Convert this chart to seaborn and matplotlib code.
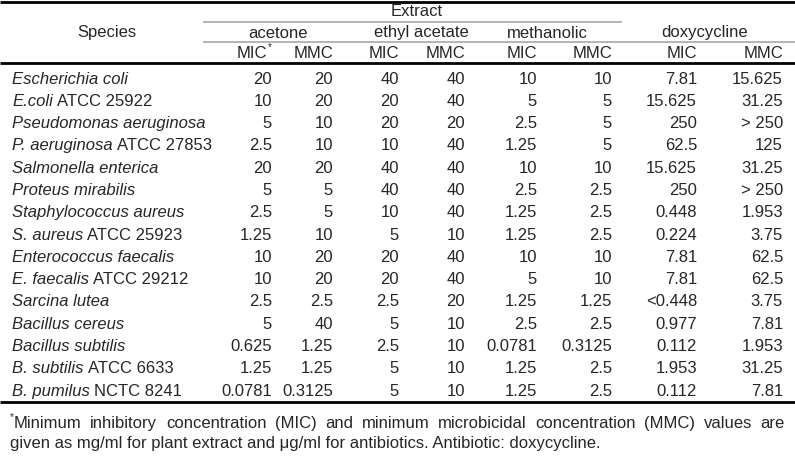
import matplotlib
matplotlib.use("Agg")
import matplotlib.pyplot as plt
import seaborn as sns

# species name: italic part + strain part
species = ["Escherichia coli", "E.coli", "Pseudomonas aeruginosa", "P. aeruginosa",
           "Salmonella enterica", "Proteus mirabilis", "Staphylococcus aureus",
           "S. aureus", "Enterococcus faecalis", "E. faecalis", "Sarcina lutea",
           "Bacillus cereus", "Bacillus subtilis", "B. subtilis", "B. pumilus"]
strain = ["", "ATCC 25922", "", "ATCC 27853", "", "", "", "ATCC 25923", "",
          "ATCC 29212", "", "", "", "ATCC 6633", "NCTC 8241"]

acetone_mic = ["20", "10", "5", "2.5", "20", "5", "2.5", "1.25", "10", "10", "2.5", "5", "0.625", "1.25", "0.0781"]
acetone_mmc = ["20", "20", "10", "10", "20", "5", "5", "10", "20", "20", "2.5", "40", "1.25", "1.25", "0.3125"]
ethyl_mic = ["40", "20", "20", "10", "40", "40", "10", "5", "20", "20", "2.5", "5", "2.5", "5", "5"]
ethyl_mmc = ["40", "40", "20", "40", "40", "40", "40", "10", "40", "40", "20", "10", "10", "10", "10"]
methanol_mic = ["10", "5", "2.5", "1.25", "10", "2.5", "1.25", "1.25", "10", "5", "1.25", "2.5", "0.0781", "1.25", "1.25"]
methanol_mmc = ["10", "5", "5", "5", "10", "2.5", "2.5", "2.5", "10", "10", "1.25", "2.5", "0.3125", "2.5", "2.5"]
doxy_mic = ["7.81", "15.625", "250", "62.5", "15.625", "250", "0.448", "0.224", "7.81", "7.81", "<0.448", "0.977", "0.112", "1.953", "0.112"]
doxy_mmc = ["15.625", "31.25", "> 250", "125", "31.25", "> 250", "1.953", "3.75", "62.5", "62.5", "3.75", "7.81", "1.953", "31.25", "7.81"]

groups = ["acetone", "ethyl acetate", "methanolic"]
sub_labels = ["MIC", "MMC"] * 4

footnote1 = "Minimum inhibitory concentration (MIC) and minimum microbicidal concentration (MMC) values are"
footnote2 = "given as mg/ml for plant extract and \u03bcg/ml for antibiotics. Antibiotic: doxycycline."

sns.set_theme(style="white")
plt.rcParams['font.family'] = ['Liberation Sans', 'DejaVu Sans']

W, H = 795, 457
fig = plt.figure(figsize=(W / 100, H / 100), dpi=100)
ax = fig.add_axes([0, 0, 1, 1])
ax.set_xlim(0, W)
ax.set_ylim(H, 0)
ax.axis("off")
renderer = fig.canvas.get_renderer()

fs = 12
col_right = [272, 333, 399, 465, 537, 612, 697, 783]
row0, dy = 79, 22.3


def width_of(t):
    return t.get_window_extent(renderer).width


# rules
for y in (2, 63):
    ax.hlines(y, 0, W, color="black", lw=2.0)
ax.hlines(22, 203, 622, color="#a8a8a8", lw=1.2)
ax.hlines(42, 203, W, color="#a8a8a8", lw=1.2)

# headers
ax.text(107, 33, "Species", ha="center", va="center", fontsize=fs)
ax.text(417, 12, "Extract", ha="center", va="center", fontsize=fs)
for g, cx in zip(groups, [278, 421, 547]):
    ax.text(cx, 33, g, ha="center", va="center", fontsize=fs)
ax.text(705, 33, "doxycycline", ha="center", va="center", fontsize=fs)
for i, (lab, xr) in enumerate(zip(sub_labels, col_right)):
    if i == 0:
        t = ax.text(xr - 5, 53, lab, ha="right", va="center", fontsize=fs)
        ax.text(xr - 4, 47, "*", ha="left", va="center", fontsize=7)
    else:
        ax.text(xr, 53, lab, ha="right", va="center", fontsize=fs)

# body
columns = [acetone_mic, acetone_mmc, ethyl_mic, ethyl_mmc,
           methanol_mic, methanol_mmc, doxy_mic, doxy_mmc]
for i, (sp, st) in enumerate(zip(species, strain)):
    y = row0 + i * dy
    t = ax.text(12, y, sp, ha="left", va="center", fontsize=fs, style="italic")
    if st:
        ax.text(12 + width_of(t) + 4, y, st, ha="left", va="center", fontsize=fs)
    for col, xr in zip(columns, col_right):
        ax.text(xr, y, col[i], ha="right", va="center", fontsize=fs)

y_last = row0 + (len(species) - 1) * dy
ax.hlines(y_last + 11, 0, W, color="black", lw=2.0)

# footnote, first line justified
fy1, fy2 = y_last + 32, y_last + 52
ax.text(10, fy1 - 6, "*", ha="left", va="center", fontsize=7)
words = footnote1.split()
texts = [ax.text(0, fy1, w_, ha="left", va="center", fontsize=fs) for w_ in words]
widths = [width_of(t) for t in texts]
x0, x1 = 14, 785
gap = (x1 - x0 - sum(widths)) / (len(words) - 1)
x = x0
for t, w_ in zip(texts, widths):
    t.set_x(x)
    x += w_ + gap
ax.text(10, fy2, footnote2, ha="left", va="center", fontsize=fs)

fig.savefig("out.png", dpi=100)
